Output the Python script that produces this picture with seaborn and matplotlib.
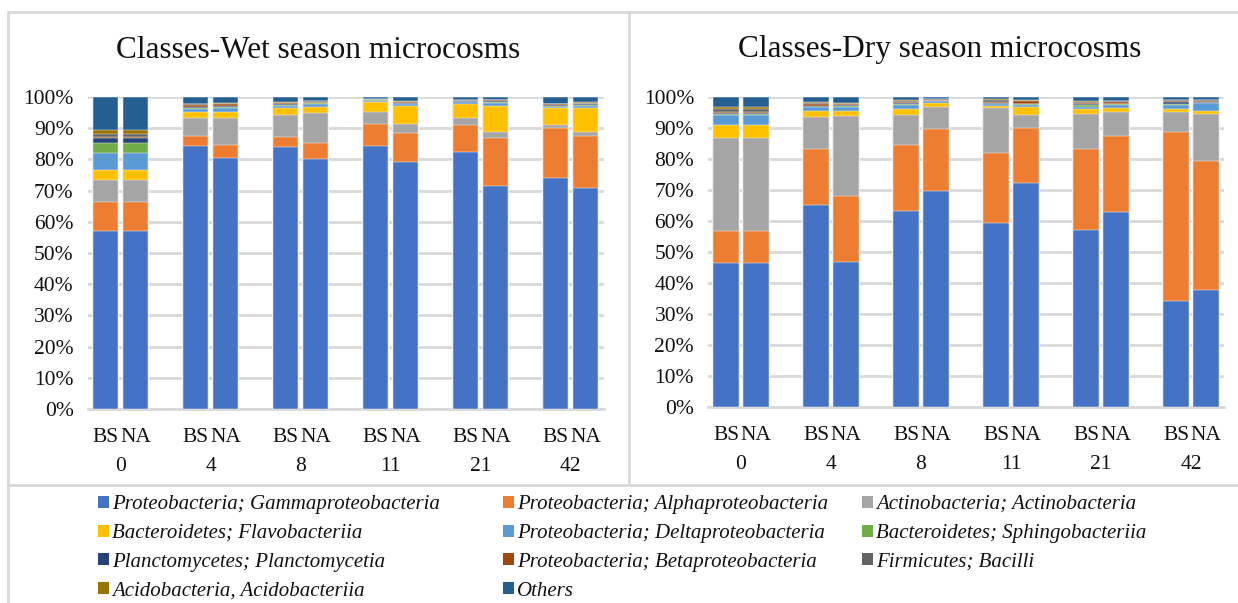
import numpy as np
import pandas as pd
import matplotlib
matplotlib.use("Agg")
import matplotlib.pyplot as plt
from matplotlib.patches import Patch
from matplotlib.lines import Line2D
from matplotlib.ticker import PercentFormatter
import seaborn as sns

# ---- data -------------------------------------------------------------
days = ["0", "4", "8", "11", "21", "42"]
treatments = ["BS", "NA"]

classes = [
    "Proteobacteria; Gammaproteobacteria",
    "Proteobacteria; Alphaproteobacteria",
    "Actinobacteria; Actinobacteria",
    "Bacteroidetes; Flavobacteriia",
    "Proteobacteria; Deltaproteobacteria",
    "Bacteroidetes; Sphingobacteriia",
    "Planctomycetes; Planctomycetia",
    "Proteobacteria; Betaproteobacteria",
    "Firmicutes; Bacilli",
    "Acidobacteria, Acidobacteriia",
    "Others",
]

# relative abundance (%), samples ordered 0BS,0NA,4BS,4NA,...,42BS,42NA
wet_gamma   = [57.1, 57.1, 84.4, 80.4, 84.1, 80.1, 84.2, 79.3, 82.3, 71.6, 74.1, 70.9]
wet_alpha   = [9.4, 9.4, 3.2, 4.3, 3.2, 5.0, 7.2, 9.1, 8.8, 15.2, 15.9, 16.5]
wet_actino  = [7.0, 7.0, 5.8, 8.5, 6.9, 9.7, 3.8, 3.0, 2.3, 1.9, 1.1, 1.5]
wet_flavo   = [3.1, 3.1, 1.7, 1.9, 2.2, 2.0, 3.2, 5.8, 4.5, 8.5, 5.4, 7.7]
wet_delta   = [5.3, 5.3, 1.1, 1.4, 0.6, 0.8, 0.4, 0.4, 0.4, 1.0, 0.4, 0.4]
wet_sphingo = [3.4, 3.4, 0.3, 0.4, 0.3, 0.4, 0.1, 0.3, 0.2, 0.3, 0.2, 0.4]
wet_plancto = [1.5, 1.5, 0.4, 0.3, 0.5, 0.2, 0.1, 0.2, 0.2, 0.2, 0.4, 0.2]
wet_beta    = [0.5, 0.5, 0.4, 0.4, 0.2, 0.2, 0.1, 0.2, 0.1, 0.2, 0.2, 0.3]
wet_firm    = [0.7, 0.7, 0.4, 0.3, 0.2, 0.2, 0.2, 0.2, 0.2, 0.1, 0.1, 0.3]
wet_acido   = [1.4, 1.4, 0.2, 0.2, 0.2, 0.2, 0.1, 0.2, 0.1, 0.1, 0.1, 0.2]
wet_others  = [10.6, 10.6, 2.1, 1.9, 1.6, 1.2, 0.6, 1.3, 0.9, 0.9, 2.1, 1.6]

dry_gamma   = [46.4, 46.4, 65.1, 46.9, 63.3, 69.8, 59.3, 72.2, 57.1, 63.0, 34.1, 37.6]
dry_alpha   = [10.3, 10.3, 18.0, 21.1, 21.1, 19.8, 22.5, 17.9, 26.2, 24.3, 54.7, 41.7]
dry_actino  = [30.1, 30.1, 10.5, 26.0, 9.9, 7.1, 14.6, 4.1, 11.1, 7.9, 6.5, 15.3]
dry_flavo   = [4.3, 4.3, 1.9, 1.5, 1.8, 1.5, 0.8, 2.8, 1.6, 1.2, 0.8, 0.9]
dry_delta   = [3.2, 3.2, 1.2, 1.4, 1.4, 0.4, 0.5, 0.5, 0.9, 1.1, 1.4, 2.5]
dry_sphingo = [0.2, 0.2, 0.2, 0.2, 0.3, 0.1, 0.2, 0.2, 0.4, 0.2, 0.3, 0.1]
dry_plancto = [0.5, 0.5, 0.3, 0.2, 0.3, 0.1, 0.3, 0.3, 0.3, 0.2, 0.7, 0.2]
dry_beta    = [0.3, 0.3, 0.4, 0.3, 0.3, 0.2, 0.3, 0.7, 0.4, 0.6, 0.2, 0.5]
dry_firm    = [0.8, 0.8, 0.4, 0.2, 0.3, 0.2, 0.4, 0.2, 0.3, 0.2, 0.2, 0.2]
dry_acido   = [0.6, 0.6, 0.3, 0.2, 0.2, 0.1, 0.3, 0.2, 0.3, 0.1, 0.1, 0.1]
dry_others  = [3.3, 3.3, 1.7, 2.0, 1.1, 0.7, 0.8, 1.0, 1.4, 1.2, 1.0, 0.9]

wet = [wet_gamma, wet_alpha, wet_actino, wet_flavo, wet_delta, wet_sphingo,
       wet_plancto, wet_beta, wet_firm, wet_acido, wet_others]
dry = [dry_gamma, dry_alpha, dry_actino, dry_flavo, dry_delta, dry_sphingo,
       dry_plancto, dry_beta, dry_firm, dry_acido, dry_others]

colors = ["#4472C4", "#ED7D31", "#A5A5A5", "#FFC000", "#5B9BD5", "#70AD47",
          "#264478", "#9E480E", "#636363", "#997300", "#255E91"]

# ---- style ------------------------------------------------------------
sns.set_theme(style="white")
plt.rcParams["font.family"] = ["Liberation Serif", "DejaVu Serif"]
plt.rcParams["axes.unicode_minus"] = False

W, H = 1238, 603
fig = plt.figure(figsize=(W / 100, H / 100), dpi=100)
fig.patch.set_facecolor("white")

GRID = "#D9D9D9"
TICK_FS = 15.5


def px_rect(left, top, right, bottom):
    return [left / W, 1 - bottom / H, (right - left) / W, (bottom - top) / H]


# sample positions: two bars per day with a gap slot between days
positions = []
for g in range(len(days)):
    for j in range(len(treatments)):
        positions.append(3 * g + j)
positions = np.array(positions, dtype=float)


def stacked_panel(ax, series, title, title_x):
    vals = np.array(series, dtype=float)
    vals = vals / vals.sum(axis=0) * 100.0
    cum = np.cumsum(vals, axis=0)
    # draw from the outermost cumulative layer inward so each class shows as a band
    for k in range(len(classes) - 1, -1, -1):
        df = pd.DataFrame({"pos": positions, "cum": cum[k]})
        sns.barplot(data=df, x="pos", y="cum", native_scale=True, width=0.84,
                    color=colors[k], saturation=1, edgecolor="#F2F2F2",
                    linewidth=0.35, errorbar=None, ax=ax, zorder=3)
    ax.set_xlim(-0.6, 16.6)
    ax.set_ylim(0, 100)
    ax.set_yticks(np.arange(0, 101, 10))
    ax.yaxis.set_major_formatter(PercentFormatter(decimals=0))
    ax.grid(axis="y", color=GRID, linewidth=2.0, zorder=0)
    ax.grid(axis="x", visible=False)
    for s in ["top", "right", "left"]:
        ax.spines[s].set_visible(False)
    ax.spines["bottom"].set_color(GRID)
    ax.spines["bottom"].set_linewidth(2.0)
    ax.set_xticks(positions)
    ax.set_xticklabels(treatments * len(days))
    ax.tick_params(axis="x", length=0, pad=14, labelsize=TICK_FS, colors="#111111")
    ax.tick_params(axis="y", length=0, pad=10, labelsize=TICK_FS, colors="#111111")
    ax.set_xlabel("")
    ax.set_ylabel("")
    ax.set_facecolor("white")
    for g, d in enumerate(days):
        ax.text(3 * g + 0.5, -0.185, d, transform=ax.get_xaxis_transform(),
                ha="center", va="center", fontsize=TICK_FS, color="#111111")
    fig.text(title_x / W, 1 - 50 / H, title, ha="center", va="center",
             fontsize=22.5, color="#111111")


ax_wet = fig.add_axes(px_rect(87.5, 97, 603.5, 409))
stacked_panel(ax_wet, wet, "Classes-Wet season microcosms", 318)

ax_dry = fig.add_axes(px_rect(708, 97, 1224, 407))
stacked_panel(ax_dry, dry, "Classes-Dry season microcosms", 940)

# ---- frame lines -------------------------------------------------------
def fig_line(x0, y0, x1, y1):
    fig.add_artist(Line2D([x0 / W, x1 / W], [1 - y0 / H, 1 - y1 / H],
                          color=GRID, linewidth=2.0, transform=fig.transFigure))


fig_line(8, 12, W, 12)
fig_line(8, 12, 8, H)
fig_line(629, 12, 629, 485)
fig_line(8, 485, W, 485)

# ---- legend (row-wise order, three columns) ---------------------------
handles = [Patch(facecolor=c, edgecolor="none") for c in colors]
col_x = [94, 499, 858]
for c in range(3):
    idx = list(range(c, len(classes), 3))
    leg = fig.legend([handles[i] for i in idx], [classes[i] for i in idx],
                     loc="upper left", bbox_to_anchor=(col_x[c] / W, 1 - 491 / H),
                     ncol=1, frameon=False, handlelength=0.5, handleheight=0.5,
                     handletextpad=0.15, labelspacing=0.47, borderpad=0.2,
                     borderaxespad=0,
                     prop={"family": "Liberation Serif", "style": "italic", "size": 15})
    for t in leg.get_texts():
        t.set_color("#111111")

fig.savefig("out.png", dpi=100, facecolor="white")
